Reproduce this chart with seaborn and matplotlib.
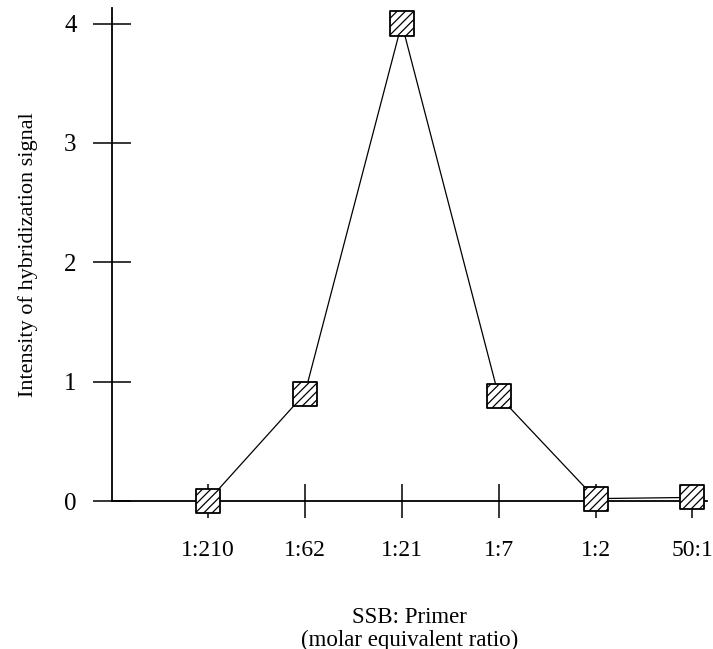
import matplotlib
matplotlib.use("Agg")
import matplotlib.pyplot as plt
import seaborn as sns
import pandas as pd

ratios = ["1:210", "1:62", "1:21", "1:7", "1:2", "50:1"]
intensity = [0.0, 0.9, 4.0, 0.88, 0.02, 0.03]
yticks = [0, 1, 2, 3, 4]

sns.set_theme(style="ticks")
plt.rcParams["font.family"] = ["Liberation Serif", "DejaVu Serif"]
plt.rcParams["hatch.linewidth"] = 0.9
plt.rcParams["text.color"] = "black"
plt.rcParams["axes.labelcolor"] = "black"

df = pd.DataFrame({"ratio": ratios, "intensity": intensity})

fig = plt.figure(figsize=(7.13, 6.49), dpi=100)
ax = fig.add_axes([112/713, (649-501)/649, (707-112)/713, (501-8)/649])

sns.lineplot(data=df, x="ratio", y="intensity", ax=ax, color="black",
             linewidth=0.9, sort=False, zorder=2)
sns.scatterplot(data=df, x="ratio", y="intensity", ax=ax, marker="s", s=300,
                facecolor="white", edgecolor="black", linewidth=1.3,
                hatch="////", zorder=3, clip_on=False)

ax.set_xlim(-0.99, 5.15)
ax.set_ylim(0, 4.13)
ax.set_yticks(yticks)
ax.set_yticklabels([str(v) for v in yticks])

for s in ["top", "right"]:
    ax.spines[s].set_visible(False)
for s in ["left", "bottom"]:
    ax.spines[s].set_linewidth(1.3)
    ax.spines[s].set_color("black")

ax.tick_params(axis="y", direction="inout", length=27, width=1.1, pad=12,
               labelsize=18, colors="black")
ax.tick_params(axis="x", direction="inout", length=24, width=1.1, pad=16,
               labelsize=17, colors="black")

ax.set_xlabel("SSB: Primer\n(molar equivalent ratio)", fontsize=16.5,
              labelpad=33, linespacing=1.1)
ax.set_ylabel("Intensity of hybridization signal", fontsize=16, labelpad=19)

fig.savefig("out.png", dpi=100)
